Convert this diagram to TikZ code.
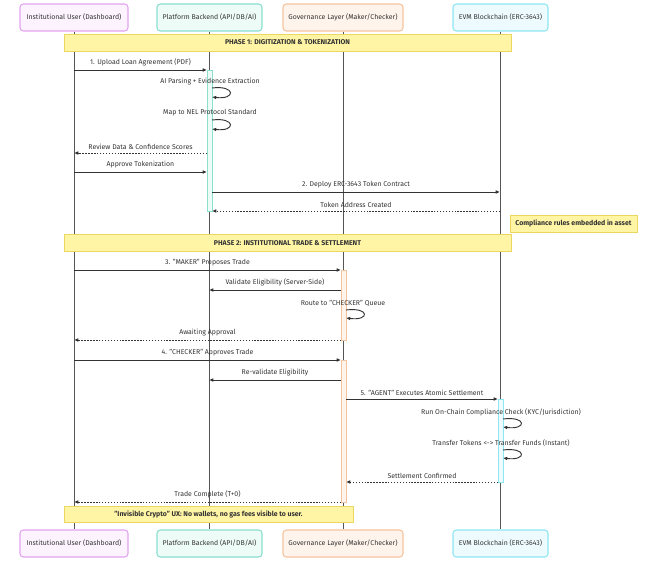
\documentclass[tikz,border=0pt]{standalone}
\usepackage{fontspec}
\setmainfont{Fira Sans}
\usetikzlibrary{arrows.meta}
\definecolor{txt}{HTML}{333333}
\definecolor{lifec}{HTML}{555555}
\definecolor{aAb}{HTML}{E3A3F0}\definecolor{aAf}{HTML}{FCF3FE}
\definecolor{aBb}{HTML}{8ADFCF}\definecolor{aBf}{HTML}{EEFCF8}
\definecolor{aCb}{HTML}{F5C39E}\definecolor{aCf}{HTML}{FFF4EC}
\definecolor{aDb}{HTML}{8EE6F2}\definecolor{aDf}{HTML}{EEFBFE}
\definecolor{noteb}{HTML}{EBD75F}\definecolor{notef}{HTML}{FFF5A5}
\begin{document}
\begin{tikzpicture}[x=0.75pt,y=-0.75pt,
  font=\fontsize{5.2}{6.2}\selectfont, text=txt,
  actor/.style={draw, rounded corners=2.5pt, line width=0.8pt, minimum height=20.25pt, inner sep=0pt},
  notebox/.style={draw=noteb, fill=notef, line width=0.7pt, minimum height=12.75pt, inner sep=0pt, font=\fontsize{5.2}{6.2}\selectfont\bfseries},
  life/.style={draw=lifec, line width=0.7pt},
  msg/.style={draw=txt, line width=0.7pt, -{Latex[length=3.2pt,width=2.8pt]}},
  rep/.style={msg, dash pattern=on 1.1pt off 1.1pt},
  lbl/.style={midway, above=2.4pt, inner sep=0pt},
  slbl/.style={inner sep=0pt},
]
\useasboundingbox (0,0) rectangle (657,573);
% actors
\node[actor, draw=aAb, fill=aAf, minimum width=81pt] (uT) at (74,17.5) {Institutional User (Dashboard)};
\node[actor, draw=aBb, fill=aBf, minimum width=78.75pt] (pT) at (209.5,17.5) {Platform Backend (API/DB/AI)};
\node[actor, draw=aCb, fill=aCf, minimum width=90pt] (gT) at (343,17.5) {Governance Layer (Maker/Checker)};
\node[actor, draw=aDb, fill=aDf, minimum width=71.25pt] (eT) at (500.5,17.5) {EVM Blockchain (ERC-3643)};
\node[actor, draw=aAb, fill=aAf, minimum width=81pt] (uB) at (74,543.5) {Institutional User (Dashboard)};
\node[actor, draw=aBb, fill=aBf, minimum width=78.75pt] (pB) at (209.5,543.5) {Platform Backend (API/DB/AI)};
\node[actor, draw=aCb, fill=aCf, minimum width=90pt] (gB) at (343,543.5) {Governance Layer (Maker/Checker)};
\node[actor, draw=aDb, fill=aDf, minimum width=71.25pt] (eB) at (500.5,543.5) {EVM Blockchain (ERC-3643)};
% lifelines
\draw[life] (uT) -- (uB);
\draw[life] (pT) -- (pB);
\draw[life] (gT) -- (gB);
\draw[life] (eT) -- (eB);
% notes
\node[notebox, minimum width=335.25pt] (ph1) at (287.5,42.5) {PHASE 1: DIGITIZATION \& TOKENIZATION};
\node[notebox, minimum width=335.25pt] (ph2) at (287.5,243) {PHASE 2: INSTITUTIONAL TRADE \& SETTLEMENT};
\node[notebox, minimum width=95.25pt] (cmp) at (573.5,223.5) {Compliance rules embedded in asset};
\node[notebox, minimum width=216.75pt, minimum height=12pt] (inv) at (208.5,514) {"Invisible Crypto" UX: No wallets, no gas fees visible to user.};
% activations
\draw[draw=aBb, fill=aBf, line width=0.7pt] (207,70) rectangle (212,211);
\draw[draw=aCb, fill=aCf, line width=0.7pt] (341,270) rectangle (346,340);
\draw[draw=aCb, fill=aCf, line width=0.7pt] (341,360) rectangle (346,502);
\draw[draw=aDb, fill=aDf, line width=0.7pt] (498,399) rectangle (503,482);
% message end points
\coordinate (a1) at (74,70);   \coordinate (b1) at (207,70);
\coordinate (l1a) at (212,88); \coordinate (l1b) at (212,97);
\coordinate (l2a) at (212,120); \coordinate (l2b) at (212,129);
\coordinate (a2) at (207,153); \coordinate (b2) at (74,153);
\coordinate (a3) at (74,172);  \coordinate (b3) at (207,172);
\coordinate (a4) at (212,192); \coordinate (b4) at (500,192);
\coordinate (a5) at (500,211); \coordinate (b5) at (212,211);
\coordinate (a6) at (74,270);  \coordinate (b6) at (341,270);
\coordinate (a7) at (341,290); \coordinate (b7) at (209,290);
\coordinate (l3a) at (346,310); \coordinate (l3b) at (346,318);
\coordinate (a8) at (341,340); \coordinate (b8) at (74,340);
\coordinate (a9) at (74,360);  \coordinate (b9) at (341,360);
\coordinate (a10) at (341,380); \coordinate (b10) at (209,380);
\coordinate (a11) at (346,399); \coordinate (b11) at (498,399);
\coordinate (l4a) at (503,419); \coordinate (l4b) at (503,427);
\coordinate (l5a) at (503,450); \coordinate (l5b) at (503,458);
\coordinate (a12) at (498,482); \coordinate (b12) at (346,482);
\coordinate (a13) at (341,502); \coordinate (b13) at (74,502);
% messages
\draw[msg] (a1) -- node[lbl]{1. Upload Loan Agreement (PDF)} (b1);
\node[slbl] (t1) at (210,82) {AI Parsing + Evidence Extraction};
\draw[msg] (l1a) .. controls (236,85) and (236,100) .. (l1b);
\node[slbl] (t2) at (210,113) {Map to NEL Protocol Standard};
\draw[msg] (l2a) .. controls (236,117) and (236,132) .. (l2b);
\draw[rep] (a2) -- node[lbl]{Review Data \& Confidence Scores} (b2);
\draw[msg] (a3) -- node[lbl]{Approve Tokenization} (b3);
\draw[msg] (a4) -- node[lbl]{2. Deploy ERC-3643 Token Contract} (b4);
\draw[rep] (a5) -- node[lbl]{Token Address Created} (b5);
\draw[msg] (a6) -- node[lbl]{3. "MAKER" Proposes Trade} (b6);
\draw[msg] (a7) -- node[lbl]{Validate Eligibility (Server-Side)} (b7);
\node[slbl] (t3) at (343,303) {Route to "CHECKER" Queue};
\draw[msg] (l3a) .. controls (370,307) and (370,321) .. (l3b);
\draw[rep] (a8) -- node[lbl]{Awaiting Approval} (b8);
\draw[msg] (a9) -- node[lbl]{4. "CHECKER" Approves Trade} (b9);
\draw[msg] (a10) -- node[lbl]{Re-validate Eligibility} (b10);
\draw[msg] (a11) -- node[lbl]{5. "AGENT" Executes Atomic Settlement} (b11);
\node[slbl] (t4) at (501,412) {Run On-Chain Compliance Check (KYC/Jurisdiction)};
\draw[msg] (l4a) .. controls (527,416) and (527,430) .. (l4b);
\node[slbl] (t5) at (501,443) {Transfer Tokens <-> Transfer Funds (Instant)};
\draw[msg] (l5a) .. controls (527,447) and (527,461) .. (l5b);
\draw[rep] (a12) -- node[lbl]{Settlement Confirmed} (b12);
\draw[rep] (a13) -- node[lbl]{Trade Complete (T+0)} (b13);
\end{tikzpicture}
\end{document}
